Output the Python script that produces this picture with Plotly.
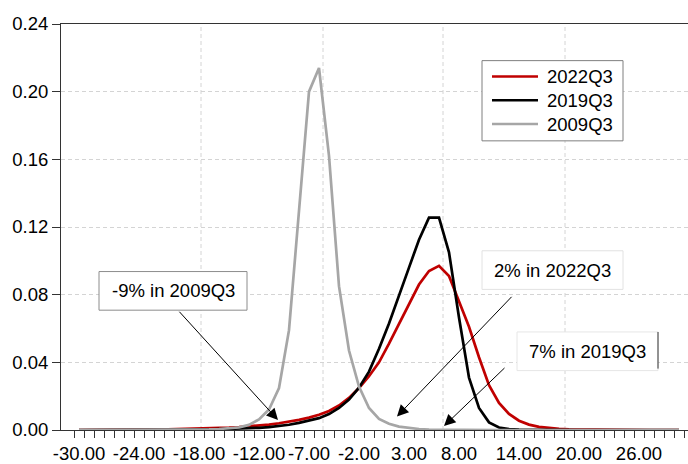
import plotly.graph_objects as go

# Growth outcome grid (percent) and estimated densities for each quarter
growth = list(range(-30, 31))

dens_2022q3 = [
    0.0000, 0.0001, 0.0001, 0.0001, 0.0001, 0.0002, 0.0002, 0.0003, 0.0003, 0.0004,
    0.0005, 0.0006, 0.0007, 0.0009, 0.0011, 0.0014, 0.0017, 0.0021, 0.0026, 0.0032,
    0.0040, 0.0049, 0.0060, 0.0073, 0.0090, 0.0112, 0.0145, 0.0190, 0.0248, 0.0318,
    0.0400, 0.0510, 0.0630, 0.0750, 0.0860, 0.0940, 0.0970, 0.0910, 0.0760, 0.0610,
    0.0430, 0.0265, 0.0160, 0.0095, 0.0055, 0.0032, 0.0019, 0.0011, 0.0007, 0.0004,
    0.0003, 0.0002, 0.0001, 0.0001, 0.0001, 0.0000, 0.0000, 0.0000, 0.0000, 0.0000,
    0.0000,
]

dens_2019q3 = [
    0.0000, 0.0000, 0.0000, 0.0001, 0.0001, 0.0001, 0.0001, 0.0002, 0.0002, 0.0002,
    0.0003, 0.0003, 0.0004, 0.0004, 0.0005, 0.0006, 0.0007, 0.0010, 0.0013, 0.0017,
    0.0023, 0.0031, 0.0042, 0.0056, 0.0070, 0.0094, 0.0130, 0.0180, 0.0250, 0.0345,
    0.0480, 0.0630, 0.0790, 0.0960, 0.1125, 0.1255, 0.1255, 0.1050, 0.0665, 0.0310,
    0.0130, 0.0045, 0.0015, 0.0005, 0.0002, 0.0001, 0.0000, 0.0000, 0.0000, 0.0000,
    0.0000, 0.0000, 0.0000, 0.0000, 0.0000, 0.0000, 0.0000, 0.0000, 0.0000, 0.0000,
    0.0000,
]

dens_2009q3 = [
    0.0000, 0.0000, 0.0000, 0.0000, 0.0000, 0.0000, 0.0000, 0.0001, 0.0001, 0.0001,
    0.0002, 0.0002, 0.0003, 0.0004, 0.0006, 0.0009, 0.0016, 0.0030, 0.0063, 0.0121,
    0.0248, 0.0590, 0.1300, 0.2000, 0.2140, 0.1620, 0.0850, 0.0470, 0.0257, 0.0130,
    0.0066, 0.0037, 0.0020, 0.0011, 0.0006, 0.0003, 0.0002, 0.0001, 0.0001, 0.0000,
    0.0000, 0.0000, 0.0000, 0.0000, 0.0000, 0.0000, 0.0000, 0.0000, 0.0000, 0.0000,
    0.0000, 0.0000, 0.0000, 0.0000, 0.0000, 0.0000, 0.0000, 0.0000, 0.0000, 0.0000,
    0.0000,
]

series_names = ["2022Q3", "2019Q3", "2009Q3"]
series_colors = ["#c00000", "#000000", "#a6a6a6"]

x_tick_vals = [-30, -24, -18, -12, -7, -2, 3, 8, 14, 20, 26]
x_tick_text = ["-30.00", "-24.00", "-18.00", "-12.00", "-7.00", "-2.00",
               "3.00", "8.00", "14.00", "20.00", "26.00"]
y_tick_vals = [0.00, 0.04, 0.08, 0.12, 0.16, 0.20, 0.24]

# Callouts: label, arrow tip (x, y) and arrow tail (x, y) in data units
callout_labels = ["-9% in 2009Q3", "2% in 2022Q3", "7% in 2019Q3"]
arrow_tips = [(-10.1, 0.0059), (1.8, 0.0080), (6.5, 0.0023)]
arrow_tails = [(-20.1, 0.0708), (13.4, 0.0796), (12.7, 0.0375)]

FONT = "Arial, Liberation Sans, sans-serif"
FS = 18.5
W, H = 688, 464
ML, MR, MT, MB = 61, 0, 24, 30
PW, PH = W - ML - MR, H - MT - MB
X_RANGE = [-31.8, 30.9]
GRID = "#d4d4d4"
AXIS = "#333333"


def fx(p):
    """pixel column -> paper x"""
    return (p - ML) / PW


def fy(p):
    """pixel row -> paper y"""
    return (H - MB - p) / PH


fig = go.Figure()
for name, ys, col in zip(series_names, [dens_2022q3, dens_2019q3, dens_2009q3], series_colors):
    fig.add_trace(go.Scatter(x=growth, y=ys, mode="lines", name=name,
                             line=dict(color=col, width=2.7), showlegend=False))

shapes = []
# vertical dashed grid
for gx in [-17.8, -5.6, 6.4, 18.6]:
    shapes.append(dict(type="line", xref="x", yref="paper", x0=gx, x1=gx, y0=0, y1=1,
                       line=dict(color=GRID, width=1, dash="4px,3px"), layer="below"))

# legend box
shapes.append(dict(type="rect", xref="paper", yref="paper",
                   x0=fx(482), x1=fx(623), y0=fy(142), y1=fy(61),
                   line=dict(color="#7f7f7f", width=1), fillcolor="white", layer="above"))
annotations = []
for i, (name, col) in enumerate(zip(series_names, series_colors)):
    row = 77 + 24 * i
    shapes.append(dict(type="line", xref="paper", yref="paper",
                       x0=fx(492), x1=fx(538), y0=fy(row), y1=fy(row),
                       line=dict(color=col, width=2.7), layer="above"))
    annotations.append(dict(xref="paper", yref="paper", x=fx(545), y=fy(row),
                            xanchor="left", yanchor="middle", text=name, showarrow=False,
                            font=dict(family=FONT, size=FS, color="#000000")))

# callout boxes
boxes = [(99, 274, 247, 313, "#8c8c8c"),
         (482, 253, 623, 292, "#e2e2e2"),
         (517, 335, 658, 374, "#e6e6e6")]
for (x0, y0, x1, y1, bc), label in zip(boxes, callout_labels):
    shapes.append(dict(type="rect", xref="paper", yref="paper",
                       x0=fx(x0), x1=fx(x1), y0=fy(y1), y1=fy(y0),
                       line=dict(color=bc, width=1), fillcolor="white", layer="above"))
    annotations.append(dict(xref="paper", yref="paper", x=fx((x0 + x1) / 2),
                            y=fy((y0 + y1) / 2), xanchor="center", yanchor="middle",
                            text=label, showarrow=False,
                            font=dict(family=FONT, size=FS, color="#000000")))
# darker right edge on the last callout box
shapes.append(dict(type="line", xref="paper", yref="paper",
                   x0=fx(658), x1=fx(658), y0=fy(372), y1=fy(335),
                   line=dict(color="#333333", width=1), layer="above"))

# arrows
for (tx, ty), (ax, ay) in zip(arrow_tips, arrow_tails):
    annotations.append(dict(x=tx, y=ty, xref="x", yref="y", ax=ax, ay=ay,
                            axref="x", ayref="y", text="", showarrow=True,
                            arrowhead=2, arrowsize=2.3, arrowwidth=1,
                            arrowcolor="#000000", standoff=0, startstandoff=0))

fig.update_layout(
    width=W, height=H,
    margin=dict(l=ML, r=MR, t=MT, b=MB, pad=0),
    paper_bgcolor="white", plot_bgcolor="white",
    font=dict(family=FONT, size=FS, color="#000000"),
    shapes=shapes, annotations=annotations, showlegend=False,
    xaxis=dict(
        range=X_RANGE, tickmode="array", tickvals=x_tick_vals, ticktext=x_tick_text,
        ticks="outside", ticklen=7, tickcolor="rgba(0,0,0,0)",
        showgrid=False, zeroline=False,
        showline=True, linecolor=AXIS, linewidth=1, mirror=True,
        tickfont=dict(family=FONT, size=FS, color="#000000"),
        minor=dict(tickmode="array", tickvals=[v - 0.5 for v in growth] + [30.5],
                   ticks="outside", ticklen=7, tickcolor=AXIS, tickwidth=1,
                   showgrid=False),
    ),
    yaxis=dict(
        range=[0, 0.24], tickmode="array", tickvals=y_tick_vals, tickformat=".2f",
        ticks="outside", ticklen=8, tickcolor=AXIS,
        showgrid=True, gridcolor=GRID, griddash="4px,3px", gridwidth=1,
        zeroline=False, showline=True, linecolor=AXIS, linewidth=1,
        tickfont=dict(family=FONT, size=FS, color="#000000"),
    ),
)

fig.write_html("out.html")
